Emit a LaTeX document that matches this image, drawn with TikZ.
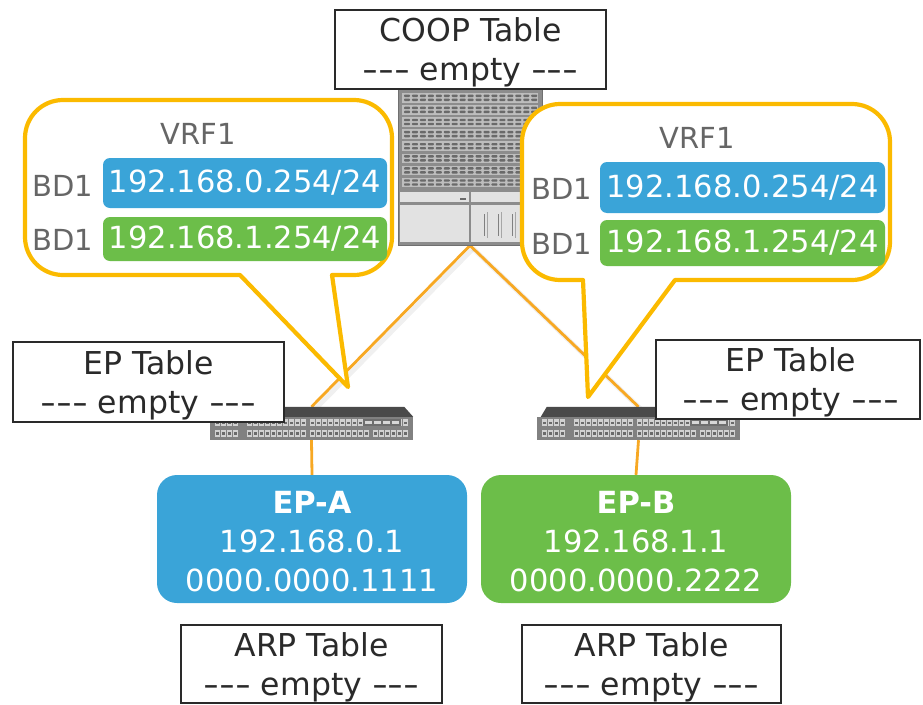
\documentclass[tikz,border=0pt]{standalone}
\usepackage{fontspec}
\setmainfont{DejaVu Sans}
\usetikzlibrary{calc}
\definecolor{epblue}{HTML}{3AA4D8}
\definecolor{epgreen}{HTML}{6CBE49}
\definecolor{callout}{HTML}{FBBA00}
\definecolor{link}{HTML}{F7A823}
\definecolor{ink}{HTML}{2A2A2A}
\definecolor{soft}{HTML}{666666}
\definecolor{chassis}{HTML}{8C8C8C}
\definecolor{portrow}{HTML}{BDBDBD}
\definecolor{porthole}{HTML}{6A6A6A}
\definecolor{plate}{HTML}{E2E2E2}
\definecolor{bevel}{HTML}{4A4A4A}
\pgfdeclarelayer{bg}
\pgfsetlayers{bg,main}
% stretched hyphens for the "--- empty ---" lines
\newcommand\hy{\scalebox{1.4}[1]{-}}
\newcommand\emptyline{\hy\hy\hy{} empty \hy\hy\hy}
% rounded rectangle outline: #1..#4 = left, top, right, bottom
\newcommand\roundedbody[4]{%
  (#3-38,#4) .. controls (#3-17,#4) and (#3,#4-17) .. (#3,#4-38)
  -- (#3,#2+38) .. controls (#3,#2+17) and (#3-17,#2) .. (#3-38,#2)
  -- (#1+38,#2) .. controls (#1+17,#2) and (#1,#2+17) .. (#1,#2+38)
  -- (#1,#4-38) .. controls (#1,#4-17) and (#1+17,#4) .. (#1+38,#4)}
\begin{document}
\begin{tikzpicture}[x=1pt,y=-1pt,
  tablebox/.style={draw=ink, line width=2.4pt, fill=white, inner sep=0pt},
  tabletext/.style={text=ink, font=\fontsize{31.5}{39}\selectfont, align=center, inner sep=0pt},
  epbox/.style={rounded corners=20pt, inner sep=0pt,
    minimum width=310pt, minimum height=128pt},
  eptext/.style={text=white, inner sep=0pt, align=center,
    font=\fontsize{30.5}{39}\selectfont},
  ipbox/.style={rounded corners=7pt, text=white, inner sep=0pt,
    minimum width=284pt, font=\fontsize{30.5}{36}\selectfont},
  softlabel/.style={text=soft, inner sep=0pt, font=\fontsize{29}{34}\selectfont},
  calloutline/.style={draw=callout, fill=white, line width=4.2pt, line join=round},
  linkline/.style={draw=link, line width=2.8pt},
  linkshadow/.style={draw=black, opacity=0.06, line width=5pt},
  switchnode/.style={inner sep=0pt, minimum width=203pt, minimum height=33pt}
]
\useasboundingbox (0,0) rectangle (923,704);

% ---------------- spine chassis ----------------
\node[draw=chassis!80!black, fill=chassis, line width=1pt, inner sep=0pt,
      minimum width=144pt, minimum height=157pt] (spine) at (470,166.5) {};
\foreach \r in {0,...,7}{
  \pgfmathsetmacro\yy{93+12.1*\r}
  \fill[portrow] (402,\yy) rectangle (538,\yy+9.5);
  \foreach \c in {0,...,16}{
    \fill[porthole, rounded corners=0.8pt] (404+\c*7.95,\yy+1.6) rectangle ++(6,2.4);
    \fill[porthole, rounded corners=0.8pt] (404+\c*7.95,\yy+5.6) rectangle ++(6,2.4);
  }
}
\fill[plate] (400,192) rectangle (469,202);
\fill[plate] (471,192) rectangle (540,202);
\fill[plate] (400,205) rectangle (469,242);
\fill[plate] (471,205) rectangle (540,242);
\fill[porthole] (460,198) rectangle (466,200);
\foreach \x in {484,498,512,526}{
  \draw[gray, line width=1pt] (\x,214) -- (\x,236);
  \draw[gray!70, line width=0.8pt] (\x+3,212) -- (\x+3,238);
}

% ---------------- COOP table ----------------
\node[tablebox, minimum width=271pt, minimum height=79pt] (coop) at (470.5,49.5) {};
\node[tabletext] (coopText) at ($(coop.center)+(0,3)$) {COOP Table\\\emptyline};

% ---------------- left callout ----------------
\draw[calloutline] (240,275) -- (348,387) -- (332,275) -- \roundedbody{25}{100}{392}{275} -- cycle;
\node[softlabel] (vrfA) at (198,134) {VRF1};
\node[softlabel] (bdA1) at (63,186) {BD1};
\node[softlabel] (bdA2) at (63,240) {BD1};
\node[ipbox, fill=epblue, minimum height=50pt] (ipA1) at (245,183) {192.168.0.254/24};
\node[ipbox, fill=epgreen, minimum height=44pt] (ipA2) at (245,239) {192.168.1.254/24};

% ---------------- right callout ----------------
\draw[calloutline] (583,280) -- (588,397) -- (675,280) -- \roundedbody{522}{104}{890}{280} -- cycle;
\node[softlabel] (vrfB) at (697,138) {VRF1};
\node[softlabel] (bdB1) at (562,189) {BD1};
\node[softlabel] (bdB2) at (562,244) {BD1};
\node[ipbox, fill=epblue, minimum height=51pt, minimum width=285pt] (ipB1) at (742.5,187.5) {192.168.0.254/24};
\node[ipbox, fill=epgreen, minimum height=46pt, minimum width=285pt] (ipB2) at (742.5,243) {192.168.1.254/24};

% ---------------- leaf switches ----------------
\node[switchnode] (leafA) at (311.5,423.5) {};
\node[switchnode] (leafB) at (638.5,423.5) {};
\foreach \sw in {leafA,leafB}{
  \fill[bevel] ($(\sw.north west)+(4,10)$) -- ($(\sw.north west)+(10,0)$)
    -- ($(\sw.north east)+(-9,0)$) -- ($(\sw.north east)+(0,10)$) -- cycle;
  \fill[chassis!110] ($(\sw.north west)+(0,10)$) rectangle (\sw.south east);
  \foreach \row in {12.5,23}{
    \foreach \g/\n in {0/4,32/10,95/10,158/6}{
      \foreach \k in {1,...,\n}{
        \fill[portrow!70!white] ($(\sw.north west)+(\g+6*\k-1,\row)$) rectangle ++(5,7);
        \fill[porthole] ($(\sw.north west)+(\g+6*\k-0.2,\row+2.2)$) rectangle ++(3.4,2.6);
      }
    }
  }
  \fill[bevel!80] ($(\sw.north west)+(153,12.5)$) rectangle ++(38,7);
  \foreach \k in {0,...,3}
    \fill[portrow!60] ($(\sw.north west)+(155+9.2*\k,14.5)$) rectangle ++(7,3);
}

% ---------------- EP tables ----------------
\node[tablebox, minimum width=271pt, minimum height=80pt] (eptA) at (148.5,382) {};
\node[tabletext] (eptAText) at ($(eptA.center)+(0,3)$) {EP Table\\\emptyline};
\node[tablebox, minimum width=264pt, minimum height=79pt] (eptB) at (788,379.5) {};
\node[tabletext] (eptBText) at ($(eptB.center)+(3,3)$) {EP Table\\\emptyline};

% ---------------- endpoints ----------------
\node[epbox, fill=epblue] (epA) at (312,539) {};
\node[eptext] (epAText) at ($(epA.center)+(0,3)$) {\textbf{EP-A}\\192.168.0.1\\0000.0000.1111};
\node[epbox, fill=epgreen] (epB) at (636,539) {};
\node[eptext] (epBText) at ($(epB.center)+(0,3)$) {\textbf{EP-B}\\192.168.1.1\\0000.0000.2222};

% ---------------- ARP tables ----------------
\node[tablebox, minimum width=261pt, minimum height=78pt] (arpA) at (311.5,664) {};
\node[tabletext] (arpAText) at ($(arpA.center)+(0,3)$) {ARP Table\\\emptyline};
\node[tablebox, minimum width=259pt, minimum height=78pt] (arpB) at (651.5,664) {};
\node[tabletext] (arpBText) at ($(arpB.center)+(0,3)$) {ARP Table\\\emptyline};

% ---------------- links ----------------
\begin{pgfonlayer}{bg}
  \draw[linkshadow] ([shift={(3,3)}]spine.south) -- ([shift={(3,3)}]leafA.north);
  \draw[linkshadow] ([shift={(3,3)}]spine.south) -- ([shift={(3,3)}]leafB.north);
  \draw[linkline] (spine.south) -- (leafA.north);
  \draw[linkline] (spine.south) -- (leafB.north);
  \draw[linkline] (leafA.south) -- (epA.north);
  \draw[linkline] (leafB.south) -- (epB.north);
\end{pgfonlayer}
\end{tikzpicture}
\end{document}
